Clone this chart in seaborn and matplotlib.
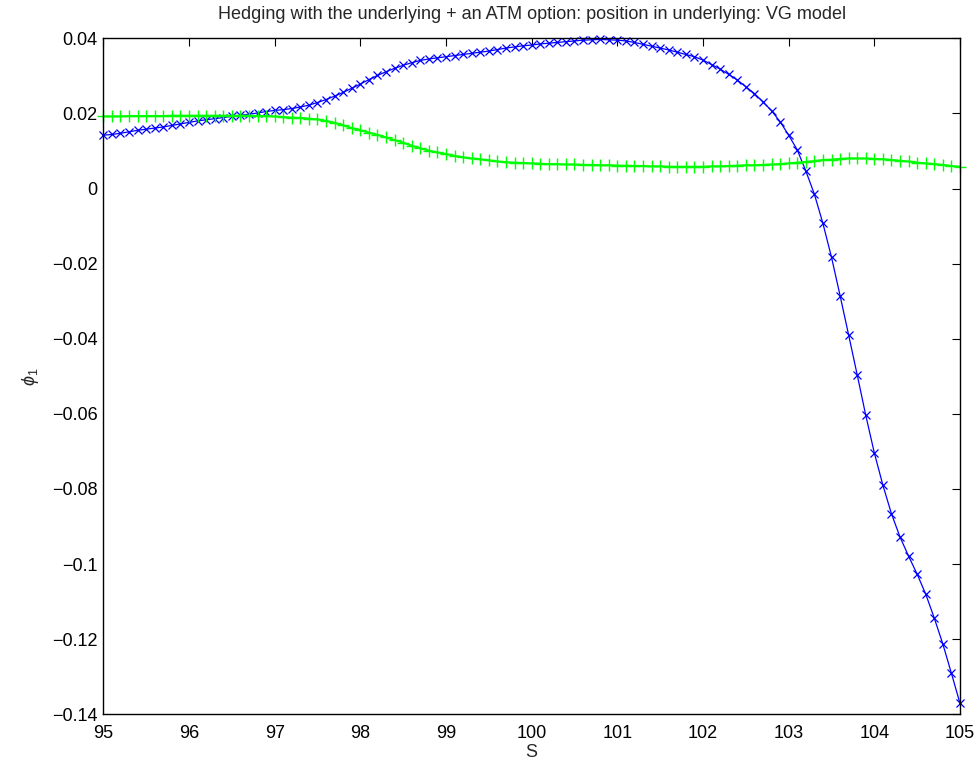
import numpy as np
import pandas as pd
import matplotlib
matplotlib.use("Agg")
import matplotlib.pyplot as plt
from matplotlib.ticker import FuncFormatter, FixedLocator
import seaborn as sns

# ---- data ----
S = [round(95 + 0.1 * i, 1) for i in range(101)]

phi_blue = [
    0.0142, 0.0144, 0.0147, 0.0151, 0.0155, 0.0158, 0.0161, 0.0164, 0.0168, 0.0172,
    0.0176, 0.0180, 0.0183, 0.0186, 0.0189, 0.0192, 0.0195, 0.0198, 0.0201, 0.0205,
    0.0208, 0.0210, 0.0213, 0.0217, 0.0222, 0.0229, 0.0237, 0.0246, 0.0256, 0.0267,
    0.0278, 0.0290, 0.0301, 0.0311, 0.0320, 0.0328, 0.0335, 0.0341, 0.0345, 0.0348,
    0.0351, 0.0354, 0.0357, 0.0360, 0.0363, 0.0366, 0.0370, 0.0374, 0.0377, 0.0380,
    0.0382, 0.0385, 0.0387, 0.0389, 0.0391, 0.0393, 0.0395, 0.0396, 0.0397, 0.0396,
    0.0395, 0.0393, 0.0389, 0.0384, 0.0379, 0.0374, 0.0369, 0.0363, 0.0357, 0.0351,
    0.0342, 0.0330, 0.0318, 0.0304, 0.0289, 0.0271, 0.0253, 0.0231, 0.0207, 0.0178,
    0.0142, 0.0103, 0.0047, -0.0015, -0.0093, -0.0183, -0.0285, -0.0390, -0.0496, -0.0604,
    -0.0704, -0.0790, -0.0866, -0.0928, -0.0979, -0.1027, -0.1080, -0.1144, -0.1213, -0.1291,
    -0.1371,
]

phi_green = [
    0.0192, 0.0192, 0.0192, 0.0193, 0.0193, 0.0193, 0.0193, 0.0193, 0.0194, 0.0194,
    0.0194, 0.0194, 0.0194, 0.0194, 0.0194, 0.0194, 0.0194, 0.0194, 0.0193, 0.0193,
    0.0192, 0.0190, 0.0189, 0.0188, 0.0186, 0.0184, 0.0180, 0.0175, 0.0168, 0.0161,
    0.0155, 0.0149, 0.0143, 0.0136, 0.0129, 0.0122, 0.0114, 0.0107, 0.0101, 0.0096,
    0.0092, 0.0087, 0.0083, 0.0080, 0.0078, 0.0075, 0.0072, 0.0070, 0.0069, 0.0068,
    0.0067, 0.0066, 0.0065, 0.0065, 0.0064, 0.0064, 0.0063, 0.0063, 0.0062, 0.0062,
    0.0061, 0.0061, 0.0060, 0.0060, 0.0059, 0.0059, 0.0058, 0.0058, 0.0058, 0.0058,
    0.0058, 0.0059, 0.0059, 0.0060, 0.0061, 0.0062, 0.0062, 0.0063, 0.0064, 0.0065,
    0.0067, 0.0069, 0.0071, 0.0073, 0.0076, 0.0077, 0.0079, 0.0080, 0.0080, 0.0080,
    0.0079, 0.0078, 0.0076, 0.0074, 0.0072, 0.0069, 0.0067, 0.0065, 0.0063, 0.0060,
    0.0058,
]

x_ticks = [95, 96, 97, 98, 99, 100, 101, 102, 103, 104, 105]
y_ticks = [-0.14, -0.12, -0.1, -0.08, -0.06, -0.04, -0.02, 0, 0.02, 0.04]

title = "Hedging with the underlying + an ATM option: position in underlying: VG model"
xlabel = "S"
ylabel = r"$\phi_1$"

# ---- plot ----
sns.set_style("white")
plt.rcParams["font.family"] = ["Liberation Sans", "DejaVu Sans"]
plt.rcParams["mathtext.fontset"] = "custom"
plt.rcParams["mathtext.rm"] = "Liberation Sans"
plt.rcParams["mathtext.it"] = "Liberation Sans:italic"

df = pd.DataFrame({"S": S, "blue": phi_blue, "green": phi_green})

fig = plt.figure(figsize=(9.8, 7.63), dpi=100)
ax = fig.add_axes([0.1054, 0.0638, 0.8742, 0.886])

blue = (0, 0, 1)
green = (0, 1, 0)
sns.lineplot(data=df, x="S", y="blue", ax=ax, color=blue, marker="x",
             markersize=6, markeredgewidth=0.9, markeredgecolor=blue,
             markerfacecolor=blue, linewidth=0.9, sort=False, estimator=None,
             clip_on=False)
sns.lineplot(data=df, x="S", y="green", ax=ax, color=green, marker="+",
             markersize=9, markeredgewidth=1.0, markeredgecolor=green,
             markerfacecolor=green, linewidth=1.5, sort=False, estimator=None,
             clip_on=False)

ax.set_xlim(95, 105)
ax.set_ylim(-0.14, 0.04)
ax.xaxis.set_major_locator(FixedLocator(x_ticks))
ax.yaxis.set_major_locator(FixedLocator(y_ticks))
ax.yaxis.set_major_formatter(FuncFormatter(lambda v, p: ("%g" % round(v, 4)).replace("-", "\u2212")))
ax.xaxis.set_major_formatter(FuncFormatter(lambda v, p: "%g" % v))

ax.tick_params(axis="both", which="major", direction="in", length=6, width=0.8,
               top=True, right=True, labelsize=13, colors="black")
ax.tick_params(axis="x", pad=8)
ax.tick_params(axis="y", pad=4)
for sp in ax.spines.values():
    sp.set_visible(True)
    sp.set_color("black")
    sp.set_linewidth(1.0)

ax.set_title(title, fontsize=13, pad=14)
ax.set_xlabel(xlabel, fontsize=13, labelpad=1, fontfamily="Liberation Sans")
ax.set_ylabel(ylabel, fontsize=13, labelpad=8)

fig.savefig("out.png", dpi=100)
